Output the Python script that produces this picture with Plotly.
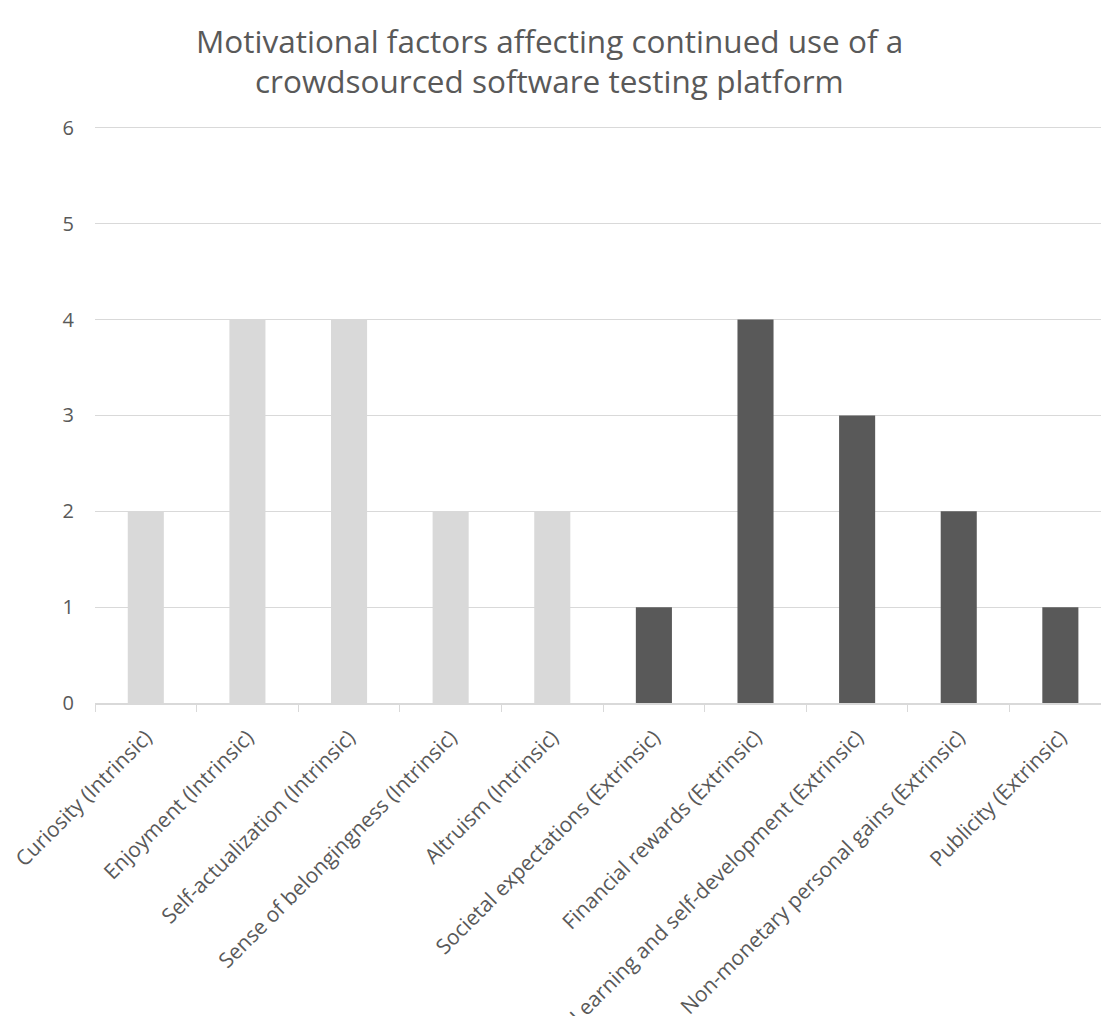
import plotly.graph_objects as go

categories = [
    "Curiosity (Intrinsic)",
    "Enjoyment (Intrinsic)",
    "Self-actualization (Intrinsic)",
    "Sense of belongingness (Intrinsic)",
    "Altruism (Intrinsic)",
    "Societal expectations (Extrinsic)",
    "Financial rewards (Extrinsic)",
    "Learning and self-development (Extrinsic)",
    "Non-monetary personal gains (Extrinsic)",
    "Publicity (Extrinsic)",
]
values = [2, 4, 4, 2, 2, 1, 4, 3, 2, 1]
kinds = ["Intrinsic"] * 5 + ["Extrinsic"] * 5
color_map = {"Intrinsic": "#D9D9D9", "Extrinsic": "#595959"}
y_ticks = [0, 1, 2, 3, 4, 5, 6]
title_lines = [
    "Motivational factors affecting continued use of a",
    "crowdsourced software testing platform",
]

fig = go.Figure(
    go.Bar(
        x=categories,
        y=values,
        marker=dict(color=[color_map[k] for k in kinds], line=dict(width=0)),
        width=0.355,
        showlegend=False,
    )
)

font_family = "Open Sans"
fig.update_layout(
    width=1101,
    height=1016,
    margin=dict(l=95, r=0, t=126, b=313),
    paper_bgcolor="white",
    plot_bgcolor="white",
    font=dict(family=font_family, color="#595959"),
    bargap=0.645,
)
for line, yp in zip(title_lines, [1.149, 1.0795]):
    fig.add_annotation(
        text=line,
        xref="paper",
        yref="paper",
        x=0.452,
        y=yp,
        xanchor="center",
        yanchor="middle",
        showarrow=False,
        font=dict(family=font_family, size=31.5, color="#595959"),
    )
fig.update_xaxes(
    range=[-0.5, 9.40],
    tickangle=-45,
    tickfont=dict(size=21, color="#595959"),
    showline=True,
    linecolor="#D9D9D9",
    linewidth=1.5,
    ticks="outside",
    tickson="boundaries",
    ticklen=7,
    tickcolor="#D9D9D9",
    showgrid=False,
    ticklabelstandoff=12,
    automargin=False,
)
fig.update_yaxes(
    range=[0, 6.02],
    tickvals=y_ticks,
    tickfont=dict(size=20, color="#595959"),
    showgrid=True,
    gridcolor="#D9D9D9",
    gridwidth=1,
    zeroline=False,
    showline=False,
    ticks="",
    ticklabelstandoff=20,
    automargin=False,
)

fig.write_html("out.html")
